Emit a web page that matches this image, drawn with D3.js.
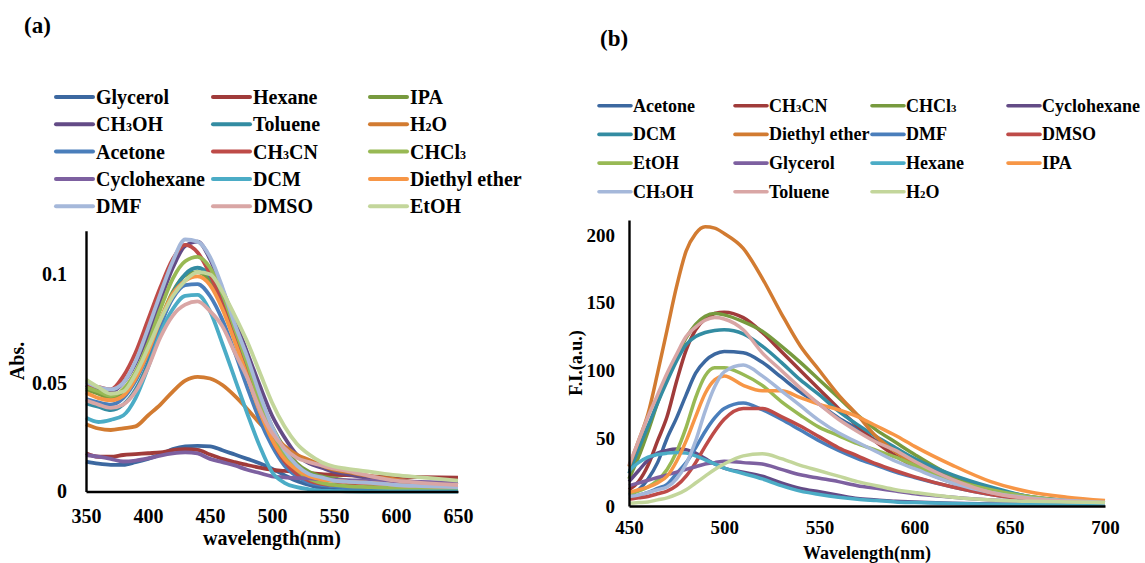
<!DOCTYPE html>
<html><head><meta charset="utf-8">
<script src="https://cdn.jsdelivr.net/npm/d3@7"></script>
<style>
body{margin:0;background:#fff;}
svg text{font-family:"Liberation Serif","Times New Roman",serif;font-weight:bold;fill:#000;}
</style></head><body>
<svg id="chart" width="1145" height="563"></svg>
<script>
// ---------- Panel (a): absorption ----------
const wavelengthsA = [350,360,370,380,390,400,410,420,430,440,450,460,470,480,490,500,510,520,530,540,550,560,580,600,620,650];
const namesA = ["Glycerol","Hexane","IPA","CH₃OH","Toluene","H₂O","Acetone","CH₃CN","CHCl₃","Cyclohexane","DCM","Diethyl ether","DMF","DMSO","EtOH"];
const absGlycerol = [0.0138,0.0128,0.0123,0.0123,0.0135,0.015,0.017,0.0195,0.0208,0.021,0.0208,0.019,0.017,0.015,0.013,0.0105,0.0075,0.0048,0.003,0.0015,0.001,0.001,0.0008,0.0006,0.0005,0.0005];
const absHexane = [0.0176,0.016,0.016,0.0168,0.0172,0.0176,0.018,0.019,0.0195,0.0192,0.017,0.015,0.0135,0.0122,0.011,0.010,0.0095,0.009,0.0085,0.008,0.0077,0.0075,0.007,0.0068,0.0066,0.0064];
const absIPA = [0.047,0.045,0.043,0.046,0.053,0.065,0.079,0.092,0.0995,0.101,0.097,0.087,0.073,0.058,0.043,0.030,0.020,0.013,0.009,0.007,0.006,0.005,0.004,0.003,0.0025,0.002];
const absCH3OH = [0.049,0.047,0.046,0.050,0.059,0.072,0.088,0.103,0.113,0.115,0.107,0.093,0.079,0.064,0.049,0.035,0.025,0.017,0.013,0.011,0.009,0.008,0.006,0.005,0.004,0.003];
const absToluene = [0.0405,0.039,0.0375,0.040,0.047,0.059,0.076,0.091,0.100,0.103,0.099,0.088,0.073,0.057,0.041,0.027,0.017,0.011,0.008,0.006,0.005,0.0045,0.004,0.003,0.0025,0.002];
const absH2O = [0.031,0.029,0.0283,0.0291,0.030,0.035,0.040,0.046,0.051,0.0528,0.052,0.049,0.044,0.038,0.0315,0.026,0.021,0.017,0.0145,0.012,0.010,0.009,0.007,0.0055,0.004,0.003];
const absAcetone = [0.0425,0.041,0.040,0.043,0.051,0.063,0.077,0.089,0.095,0.0955,0.090,0.079,0.064,0.048,0.033,0.021,0.012,0.007,0.004,0.003,0.0025,0.002,0.002,0.0015,0.0012,0.001];
const absCH3CN = [0.049,0.048,0.047,0.053,0.064,0.079,0.094,0.107,0.1135,0.110,0.100,0.086,0.070,0.054,0.038,0.024,0.014,0.008,0.005,0.0035,0.003,0.003,0.0025,0.002,0.002,0.0015];
const absCHCl3 = [0.048,0.046,0.044,0.047,0.055,0.068,0.084,0.098,0.106,0.108,0.103,0.091,0.075,0.059,0.042,0.028,0.017,0.010,0.006,0.004,0.003,0.0025,0.002,0.0015,0.0012,0.001];
const absCyclohexane = [0.0168,0.016,0.015,0.0138,0.0142,0.0152,0.0165,0.0175,0.018,0.0175,0.015,0.0135,0.012,0.010,0.0085,0.007,0.0065,0.0062,0.006,0.0056,0.0054,0.0052,0.005,0.0047,0.0044,0.004];
const absDCM = [0.034,0.032,0.033,0.035,0.043,0.057,0.073,0.084,0.090,0.0905,0.083,0.068,0.052,0.036,0.021,0.009,0.004,0.002,0.001,0.0003,0.0002,0.0001,0,0,0,0];
const absDiethylEther = [0.0455,0.043,0.042,0.044,0.052,0.064,0.079,0.091,0.097,0.099,0.095,0.084,0.069,0.053,0.037,0.024,0.015,0.010,0.007,0.0055,0.005,0.0045,0.004,0.003,0.0025,0.002];
const absDMF = [0.0505,0.048,0.047,0.050,0.060,0.075,0.091,0.106,0.116,0.115,0.108,0.094,0.077,0.062,0.045,0.030,0.019,0.012,0.008,0.0065,0.005,0.0045,0.004,0.003,0.0025,0.002];
const absDMSO = [0.042,0.040,0.0385,0.040,0.046,0.057,0.071,0.081,0.086,0.0875,0.083,0.076,0.064,0.0525,0.038,0.027,0.020,0.0155,0.0135,0.012,0.0105,0.0095,0.007,0.005,0.004,0.003];
const absEtOH = [0.0515,0.048,0.045,0.046,0.054,0.066,0.079,0.090,0.097,0.101,0.100,0.092,0.081,0.069,0.055,0.041,0.030,0.022,0.017,0.0135,0.0115,0.0105,0.009,0.0075,0.0065,0.005];
const valuesA = [absGlycerol,absHexane,absIPA,absCH3OH,absToluene,absH2O,absAcetone,absCH3CN,absCHCl3,absCyclohexane,absDCM,absDiethylEther,absDMF,absDMSO,absEtOH];
const ticksXA = [350,400,450,500,550,600,650];
const ticksYA = [0,0.05,0.1];

// ---------- Panel (b): fluorescence ----------
const wavelengthsB = [450,455,460,465,470,475,480,485,490,495,500,510,520,530,540,550,560,570,580,590,600,620,640,660,680,700];
const namesB = ["Acetone","CH₃CN","CHCl₃","Cyclohexane","DCM","Diethyl ether","DMF","DMSO","EtOH","Glycerol","Hexane","IPA","CH₃OH","Toluene","H₂O"];
const fiAcetone = [8,12,20,32,50,65,82,98,107,112,114,113,106,95,84,75,65,57,48,41,33,21,13,7,4,2.5];
const fiCH3CN = [12,18,30,48,66,92,115,130,138,142,143,139,128,114,100,86,72,59,47,37,29,17,9.5,5.5,3,2];
const fiCHCl3 = [20,36,55,76,95,110,124,134,140,142,141,136,129,118,106,93,80,67,56,47,38,22,12,5.5,3.5,2.5];
const fiCyclohexane = [18,26,34,39,41,42,41.5,39,35,31,28,25,22,17,13,10.5,8,5.5,4.5,3.5,3,2,1.5,1.2,1,1];
const fiDCM = [24,42,59,76,92,107,119,125,128,129.5,130,127,118,106,93,82,70,60,51,43,35,23,14,7,4,2.5];
const fiDiethylEther = [29,48,68,98,130,162,188,201,206,205,201,190,168,142,118,100,82,67,51,40,31,18,10,6,3.5,2.5];
const fiDMF = [7,8,10,13,16,24,32,43,55,65,72,76,71,64,56,48,41,35,30,25,21,14,8.5,5,3,2];
const fiDMSO = [5,6,7,9,11,15,22,32,44,55,64,72,72,66,59,51,43,37,31,26,21.5,14,8.5,5,3,2];
const fiEtOH = [9,11,14,19,27,40,58,80,96,102,102,97,89,77,67,58,52,46,41,36,30,19,12,7,4,2.5];
const fiGlycerol = [15,17,19,21,23,25,27,29,31,32,33,32,31,27,23,20.5,18,15,13,11,9,6.5,4.5,3.5,3,2.5];
const fiHexane = [26,32,36,38,39,39.5,39,37,34,31,28,24,20,15,11,8.5,6.5,5,4,3,2.5,1.8,1.3,1,0.8,0.8];
const fiIPA = [10,12,14,17,22,33,48,66,83,93,96,89,85,85,80,75,71,66,59,52,44,30,18,10.5,6.5,4];
const fiCH3OH = [7,8,10,12,14,20,31,48,70,88,99,104,96,85,74,63,54,47,40,33,27.5,17,10,6,4,2.5];
const fiToluene = [30,48,66,82,98,112,125,132,137,139,138,130,113,100,87,75,64,55,47,41,33,19.5,10,5.5,3.5,2.5];
const fiH2O = [2,2.5,3,4.5,6,8.5,12,17,22,27,31,37,38.5,35,30,26,22,18,15,12,10,6.5,4.5,3.5,3,2.5];
const valuesB = [fiAcetone,fiCH3CN,fiCHCl3,fiCyclohexane,fiDCM,fiDiethylEther,fiDMF,fiDMSO,fiEtOH,fiGlycerol,fiHexane,fiIPA,fiCH3OH,fiToluene,fiH2O];
const ticksXB = [450,500,550,600,650,700];
const ticksYB = [0,50,100,150,200];

// palette (Excel-like): dark variants, base accents, light variants
const palette = ["#3C68A0","#A03B3A","#779A3E","#634B86","#338CA2","#D27B31",
                 "#4A7EBB","#BE4B48","#98B954","#7D60A0","#4BACC6","#F79646",
                 "#A5B8DA","#D9A6A5","#C3D69B"];

const svg = d3.select("#chart");

function addName(sel, name){
  const parts = name.split(/([\u2080-\u2089]+)/);
  parts.forEach(p=>{
    if(!p) return;
    if(/[\u2080-\u2089]/.test(p)){
      const digits = p.split("").map(c=>String.fromCharCode(c.charCodeAt(0)-0x2080+48)).join("");
      sel.append("tspan").attr("font-size","0.6em").text(digits);
    } else sel.append("tspan").text(p);
  });
}

// ---------- draw panel (a) ----------
const xA = d3.scaleLinear().domain([350,650]).range([86,458]);
const yA = d3.scaleLinear().domain([0,0.12]).range([491.5,230.8]);
const gA = svg.append("g");
const lineA = d3.line().x((d,i)=>xA(wavelengthsA[i])).y(d=>yA(d)).curve(d3.curveMonotoneX);
valuesA.forEach((vals,k)=>{
  gA.append("path").attr("d",lineA(vals)).attr("fill","none")
    .attr("stroke",palette[k]).attr("stroke-width",3.8).attr("stroke-linejoin","round");
});
const axYA = gA.append("g").attr("transform","translate(86,0)")
  .call(d3.axisLeft(yA).tickValues(ticksYA).tickSize(0).tickSizeOuter(0).tickPadding(19)
        .tickFormat(d=> d===0 ? "0" : String(d)));
const axXA = gA.append("g").attr("transform","translate(0,491.5)")
  .call(d3.axisBottom(xA).tickValues(ticksXA).tickSize(0).tickSizeOuter(0).tickPadding(17));
[axYA,axXA].forEach(a=>{
  a.select(".domain").attr("stroke","#000").attr("stroke-width",2.4);
  a.selectAll("text").attr("font-size",20).attr("font-family","Liberation Serif").attr("font-weight","bold").attr("fill","#000");
});
axXA.select(".domain").lower();
gA.append("text").attr("transform","translate(24,361) rotate(-90)").attr("text-anchor","middle")
  .attr("font-size",20).text("Abs.");
gA.append("text").attr("x",272).attr("y",545).attr("text-anchor","middle")
  .attr("font-size",20).text("wavelength(nm)");
gA.append("text").attr("x",24).attr("y",33).attr("font-size",23).text("(a)");

// legend (a): 3 columns, 5 rows
const legA = gA.append("g");
namesA.forEach((n,k)=>{
  const col = k%3, row = Math.floor(k/3);
  const lx = [56,213,370][col], ly = 97 + row*27.3;
  legA.append("line").attr("x1",lx).attr("x2",lx+37).attr("y1",ly).attr("y2",ly)
    .attr("stroke",palette[k]).attr("stroke-width",4).attr("stroke-linecap","round");
  const t = legA.append("text").attr("x",lx+40).attr("y",ly+7).attr("font-size",20);
  addName(t,n);
});

// ---------- draw panel (b) ----------
const xB = d3.scaleLinear().domain([450,700]).range([629,1105]);
const yB = d3.scaleLinear().domain([0,211]).range([506,220]);
const gB = svg.append("g");
const lineB = d3.line().x((d,i)=>xB(wavelengthsB[i])).y(d=>yB(d)).curve(d3.curveMonotoneX);
valuesB.forEach((vals,k)=>{
  gB.append("path").attr("d",lineB(vals)).attr("fill","none")
    .attr("stroke",palette[k]).attr("stroke-width",3.5).attr("stroke-linejoin","round");
});
const axYB = gB.append("g").attr("transform","translate(629,0)")
  .call(d3.axisLeft(yB).tickValues(ticksYB).tickSize(0).tickSizeOuter(0).tickPadding(14));
const axXB = gB.append("g").attr("transform","translate(0,506)")
  .call(d3.axisBottom(xB).tickValues(ticksXB).tickSize(0).tickSizeOuter(0).tickPadding(15));
[axYB,axXB].forEach(a=>{
  a.select(".domain").attr("stroke","#000").attr("stroke-width",2.4);
  a.selectAll("text").attr("font-size",19).attr("font-family","Liberation Serif").attr("font-weight","bold").attr("fill","#000");
});
gB.append("text").attr("transform","translate(582,363) rotate(-90)").attr("text-anchor","middle")
  .attr("font-size",18).text("F.I.(a.u.)");
gB.append("text").attr("x",867).attr("y",559).attr("text-anchor","middle")
  .attr("font-size",18).text("Wavelength(nm)");
gB.append("text").attr("x",600).attr("y",46).attr("font-size",23).text("(b)");

// legend (b): 4 columns
const legB = gB.append("g");
namesB.forEach((n,k)=>{
  const col = k%4, row = Math.floor(k/4);
  const lx = [599,735,872,1008][col], ly = 105.7 + row*28.7;
  legB.append("line").attr("x1",lx).attr("x2",lx+32).attr("y1",ly).attr("y2",ly)
    .attr("stroke",palette[k]).attr("stroke-width",3.6).attr("stroke-linecap","round");
  const t = legB.append("text").attr("x",lx+34).attr("y",ly+6).attr("font-size",18);
  addName(t,n);
});
</script>
</body></html>
